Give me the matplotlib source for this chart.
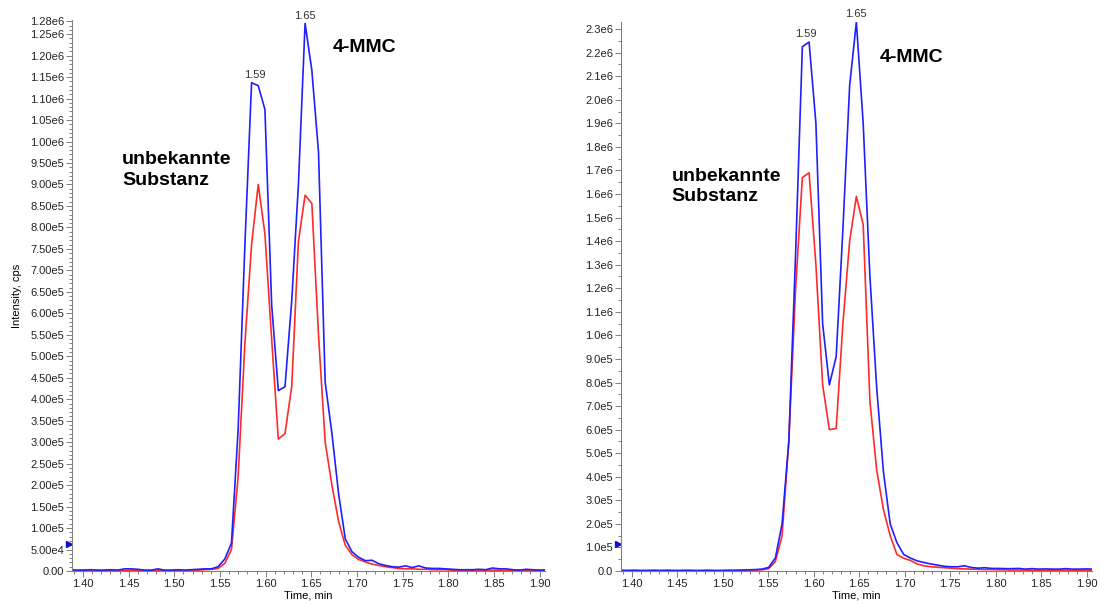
import matplotlib
matplotlib.use('Agg')
import matplotlib.pyplot as plt
from matplotlib.ticker import MultipleLocator, FixedLocator, FuncFormatter
import matplotlib.transforms as mtransforms

plt.rcParams['font.family'] = ['Liberation Sans', 'DejaVu Sans']

# retention times, min
left_time = [1.3867, 1.3940, 1.4014, 1.4087, 1.4160, 1.4233, 1.4307, 1.4380, 1.4453, 1.4527,
             1.4600, 1.4673, 1.4746, 1.4820, 1.4893, 1.4966, 1.5040, 1.5113, 1.5186, 1.5259,
             1.5333, 1.5406, 1.5479, 1.5553, 1.5626, 1.5699, 1.5773, 1.5846, 1.5919, 1.5992,
             1.6066, 1.6139, 1.6212, 1.6286, 1.6359, 1.6432, 1.6506, 1.6579, 1.6652, 1.6726,
             1.6799, 1.6872, 1.6945, 1.7019, 1.7092, 1.7165, 1.7239, 1.7312, 1.7385, 1.7459,
             1.7532, 1.7605, 1.7678, 1.7752, 1.7825, 1.7898, 1.7972, 1.8045, 1.8118, 1.8192,
             1.8265, 1.8338, 1.8411, 1.8485, 1.8558, 1.8631, 1.8705, 1.8778, 1.8851, 1.8925,
             1.8998, 1.9071]
right_time = [1.3869, 1.3943, 1.4018, 1.4092, 1.4166, 1.4240, 1.4315, 1.4389, 1.4463, 1.4538,
              1.4612, 1.4686, 1.4760, 1.4835, 1.4909, 1.4983, 1.5058, 1.5132, 1.5206, 1.5281,
              1.5355, 1.5429, 1.5504, 1.5578, 1.5652, 1.5726, 1.5801, 1.5875, 1.5949, 1.6024,
              1.6098, 1.6172, 1.6247, 1.6321, 1.6395, 1.6469, 1.6544, 1.6618, 1.6692, 1.6767,
              1.6841, 1.6915, 1.6990, 1.7064, 1.7138, 1.7212, 1.7287, 1.7361, 1.7435, 1.7510,
              1.7584, 1.7658, 1.7733, 1.7807, 1.7881, 1.7955, 1.8030, 1.8104, 1.8178, 1.8253,
              1.8327, 1.8401, 1.8476, 1.8550, 1.8624, 1.8699, 1.8773, 1.8847, 1.8921, 1.8996,
              1.9070, 1.9144]

# left chromatogram (cps)
left_blue = [3e3, 2e3, 2e3, 3e3, 2e3, 2e3, 3e3, 2e3, 5e3, 5e3,
             4e3, 2e3, 2e3, 5e3, 2e3, 2e3, 3e3, 2e3, 3e3, 4e3,
             5e3, 5e3, 1.0e4, 2.8e4, 6.5e4, 3.3e5, 7.6e5, 1.137e6, 1.13e6, 1.075e6,
             6.2e5, 4.2e5, 4.29e5, 6.3e5, 9.0e5, 1.275e6, 1.166e6, 9.75e5, 4.4e5, 3.2e5,
             1.8e5, 7.5e4, 4.5e4, 3.2e4, 2.4e4, 2.5e4, 1.7e4, 1.3e4, 1.0e4, 9e3,
             1.2e4, 8e3, 1.2e4, 7e3, 6e3, 6e3, 5e3, 4e3, 3e3, 3e3,
             3e3, 4e3, 3e3, 7e3, 5e3, 5e3, 3e3, 2e3, 4e3, 3e3,
             2e3, 3e3]
left_red = [1e3, 1e3, 2e3, 1e3, 1e3, 1e3, 2e3, 1e3, 1e3, 2e3,
            1e3, 1e3, 1e3, 2e3, 1e3, 1e3, 1e3, 1e3, 2e3, 2e3,
            3e3, 4e3, 6e3, 1.8e4, 5e4, 2.2e5, 5.3e5, 7.6e5, 9.0e5, 7.85e5,
            5.4e5, 3.07e5, 3.2e5, 4.3e5, 7.67e5, 8.75e5, 8.56e5, 5.5e5, 3.0e5, 2.0e5,
            1.15e5, 6e4, 3.8e4, 2.7e4, 2.1e4, 1.6e4, 1.3e4, 1.0e4, 8e3, 6e3,
            5e3, 5e3, 4e3, 4e3, 3e3, 3e3, 3e3, 2e3, 2e3, 2e3,
            2e3, 2e3, 2e3, 2e3, 2e3, 1e3, 1e3, 2e3, 1e3, 1e3,
            1e3, 2e3]

# right chromatogram (cps)
right_blue = [3e3, 2e3, 3e3, 2e3, 2e3, 3e3, 2e3, 3e3, 2e3, 2e3,
              3e3, 2e3, 2e3, 3e3, 2e3, 2e3, 3e3, 3e3, 4e3, 5e3,
              6e3, 8e3, 1.5e4, 5.5e4, 2.0e5, 5.5e5, 1.35e6, 2.225e6, 2.245e6, 1.9e6,
              1.05e6, 7.9e5, 9.1e5, 1.45e6, 2.06e6, 2.33e6, 1.9e6, 1.25e6, 7.8e5, 4.2e5,
              2.0e5, 1.2e5, 7e4, 5.5e4, 4.3e4, 3.6e4, 3e4, 2.5e4, 2.0e4, 1.8e4,
              1.8e4, 2.2e4, 1.5e4, 1.2e4, 1.4e4, 1.1e4, 1.1e4, 1.0e4, 1.0e4, 1.1e4,
              8e3, 1.0e4, 8e3, 9e3, 8e3, 8e3, 1.0e4, 8e3, 8e3, 9e3,
              8e3, 8e3]
right_red = [2e3, 2e3, 2e3, 2e3, 2e3, 2e3, 2e3, 2e3, 2e3, 2e3,
             2e3, 2e3, 2e3, 2e3, 2e3, 2e3, 2e3, 2e3, 2e3, 3e3,
             4e3, 5e3, 1.0e4, 4e4, 1.5e5, 5.5e5, 1.2e6, 1.67e6, 1.69e6, 1.3e6,
             7.9e5, 6.0e5, 6.05e5, 1.05e6, 1.4e6, 1.59e6, 1.47e6, 7.2e5, 4.3e5, 2.6e5,
             1.5e5, 7e4, 5.4e4, 4.5e4, 3e4, 2.2e4, 1.8e4, 1.6e4, 1.4e4, 1.2e4,
             1.0e4, 9e3, 8e3, 7e3, 6e3, 6e3, 5e3, 5e3, 4e3, 4e3,
             4e3, 3e3, 3e3, 3e3, 3e3, 3e3, 3e3, 3e3, 4e3, 3e3,
             3e3, 3e3]

x_ticks = [1.40, 1.45, 1.50, 1.55, 1.60, 1.65, 1.70, 1.75, 1.80, 1.85, 1.90]
left_yticks = [i * 5e4 for i in range(26)] + [1.28e6]
right_yticks = [i * 1e5 for i in range(24)]
peak_labels = ['1.59', '1.65']
# pairs of samples framing each labelled apex
left_peak_idx = [(27, 28), (35, 35)]
right_peak_idx = [(27, 28), (35, 35)]
left_marker_y = 6.3e4
right_marker_y = 1.15e5

BLUE = '#1f1fff'
RED = '#ff2a2a'
GREY = '#808080'


def sci_fmt(decimals):
    def f(v, pos):
        if v == 0:
            return '0.' + '0' * decimals
        s = '{:.{}e}'.format(v, decimals)
        mant, exp = s.split('e')
        return '{}e{}'.format(mant, int(exp))
    return FuncFormatter(f)


fig = plt.figure(figsize=(11, 6.01), dpi=100)
ax1 = fig.add_axes([0.0655, 0.0499, 0.43, 0.9168])
ax2 = fig.add_axes([0.5645, 0.0499, 0.4282, 0.9135])


def style(ax, ymax, yticks, yminor, dec):
    ax.set_xlim(1.388, 1.906)
    ax.set_ylim(0, ymax)
    for s in ['top', 'right']:
        ax.spines[s].set_visible(False)
    for s in ['left', 'bottom']:
        ax.spines[s].set_color(GREY)
        ax.spines[s].set_linewidth(0.8)
    ax.xaxis.set_major_locator(FixedLocator(x_ticks))
    ax.xaxis.set_minor_locator(MultipleLocator(0.01))
    ax.xaxis.set_major_formatter(FuncFormatter(lambda v, p: '%.2f' % v))
    ax.yaxis.set_major_locator(FixedLocator(yticks))
    ax.yaxis.set_minor_locator(MultipleLocator(yminor))
    ax.yaxis.set_major_formatter(sci_fmt(dec))
    ax.tick_params(which='both', direction='out', color=GREY, labelsize=8,
                   labelcolor='#222222', width=0.7)
    ax.tick_params(which='major', length=4)
    ax.tick_params(which='minor', length=2)
    ax.tick_params(axis='y', pad=1.5)
    ax.tick_params(axis='x', pad=2)
    ax.set_xlabel('Time, min', fontsize=8, labelpad=1)


def draw(ax, t, blue, red, peak_idx, marker_y):
    ax.plot(t, red, color=RED, lw=1.2)
    ax.plot(t, blue, color=BLUE, lw=1.2)
    for lab, (i, j) in zip(peak_labels, peak_idx):
        ax.annotate(lab, ((t[i] + t[j]) / 2, max(blue[i], blue[j])), xytext=(0, 2),
                    textcoords='offset points', ha='center', va='bottom',
                    fontsize=8, color='#333333', annotation_clip=False)
    trans = mtransforms.blended_transform_factory(ax.transAxes, ax.transData)
    ax.plot([-0.006], [marker_y], marker='>', color='#1010cc', markersize=5,
            transform=trans, clip_on=False)


style(ax1, 1.283e6, left_yticks, 1e4, 2)
style(ax2, 2.33e6, right_yticks, 5e4, 1)
draw(ax1, left_time, left_blue, left_red, left_peak_idx, left_marker_y)
draw(ax2, right_time, right_blue, right_red, right_peak_idx, right_marker_y)

ax1.set_ylabel('Intensity, cps', fontsize=8, labelpad=6)

ax1.text(0.552, 0.951, '4-MMC', fontsize=14, fontweight='bold', va='center',
         transform=ax1.transAxes)
ax1.text(0.106, 0.728, 'unbekannte\nSubstanz', fontsize=14, fontweight='bold',
         va='center', linespacing=1.25, transform=ax1.transAxes)
ax2.text(0.55, 0.936, '4-MMC', fontsize=14, fontweight='bold', va='center',
         transform=ax2.transAxes)
ax2.text(0.108, 0.701, 'unbekannte\nSubstanz', fontsize=14, fontweight='bold',
         va='center', linespacing=1.25, transform=ax2.transAxes)

fig.savefig('out.png', dpi=100)
